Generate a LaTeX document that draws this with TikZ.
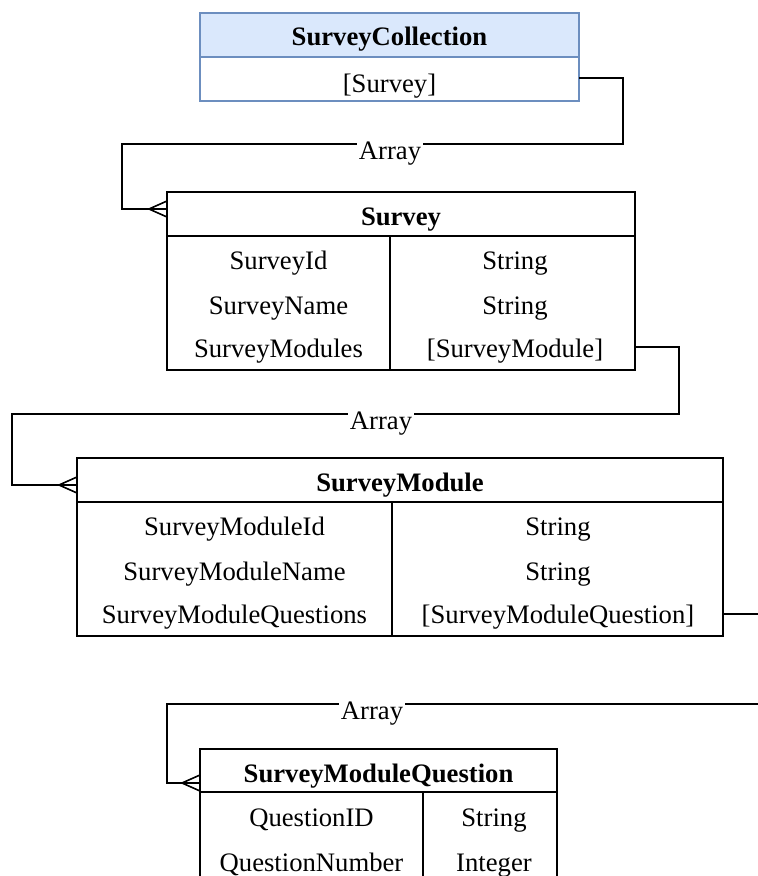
\documentclass[tikz,border=0pt]{standalone}
\usepackage{fontspec}
\setmainfont{Liberation Serif}
\usetikzlibrary{fit}
\definecolor{hdrfill}{HTML}{DAE8FC}
\definecolor{hdrline}{HTML}{6C8EBF}
\begin{document}
\begin{tikzpicture}[x=0.75pt,y=-0.75pt,
  every node/.style={font=\fontsize{20}{24}\selectfont},
  tablebox/.style={draw, line width=1.2pt, inner sep=0pt, outer sep=0pt},
  bluebox/.style={draw=hdrline, line width=1.5pt, inner sep=0pt, outer sep=0pt},
  conn/.style={draw, line width=1.2pt},
  sepline/.style={line width=1.2pt},
  celltext/.style={anchor=base, inner sep=0pt},
  headtext/.style={anchor=base, inner sep=0pt, font=\fontsize{20}{24}\selectfont\bfseries},
  edgelbl/.style={anchor=base, fill=white, inner xsep=1.5pt, inner ysep=1.5pt},
  crowfoot/.pic={\draw[line width=1.2pt] (-18,0) -- (0,-8) (-18,0) -- (0,8);}
]
\useasboundingbox (0,0) rectangle (758,876);
\clip (0,0) rectangle (758,876);

% ---- SurveyCollection ----
\fill[hdrfill] (200,13) rectangle (579,57);
\node[bluebox, fit={(200,13) (579,101)}] (coll) {};
\draw[hdrline, line width=1.5pt] (200,57) -- (579,57);
\node[headtext] (collH) at (389.5,45) {SurveyCollection};
\node[celltext] (collR) at (389.5,92) {[Survey]};

% ---- Survey ----
\node[tablebox, fit={(167,192) (635,370)}] (survey) {};
\draw[sepline] (167,236) -- (635,236);
\draw[sepline] (390,236) -- (390,370);
\node[headtext] (surveyH) at (401,225) {Survey};
\node[celltext] (sN1) at (278.5,269) {SurveyId};
\node[celltext] (sN2) at (278.5,314) {SurveyName};
\node[celltext] (sN3) at (278.5,357) {SurveyModules};
\node[celltext] (sT1) at (515,269) {String};
\node[celltext] (sT2) at (515,314) {String};
\node[celltext] (sT3) at (515,357) {[SurveyModule]};

% ---- SurveyModule ----
\node[tablebox, fit={(77,458) (723,636)}] (module) {};
\draw[sepline] (77,502) -- (723,502);
\draw[sepline] (392,502) -- (392,636);
\node[headtext] (moduleH) at (400,491) {SurveyModule};
\node[celltext] (mN1) at (234.5,535) {SurveyModuleId};
\node[celltext] (mN2) at (234.5,580) {SurveyModuleName};
\node[celltext] (mN3) at (234.5,623) {SurveyModuleQuestions};
\node[celltext] (mT1) at (558,535) {String};
\node[celltext] (mT2) at (558,580) {String};
\node[celltext] (mT3) at (558,623) {[SurveyModuleQuestion]};

% ---- SurveyModuleQuestion ----
\node[tablebox, fit={(200,749) (557,940)}] (question) {};
\draw[sepline] (200,792) -- (557,792);
\draw[sepline] (423,792) -- (423,940);
\node[headtext] (questionH) at (378.5,782) {SurveyModuleQuestion};
\node[celltext] (qN1) at (311.5,826) {QuestionID};
\node[celltext] (qN2) at (311.5,871) {QuestionNumber};
\node[celltext] (qT1) at (494,826) {String};
\node[celltext] (qT2) at (494,871) {Integer};

% ---- relations ----
\coordinate (b1) at (623,78);
\coordinate (b2) at (122,144);
\coordinate (b3) at (122,209);
\draw[conn] (coll.east |- b1) -- (b1) |- (b2) -- (b3) -- (survey.west |- b3);
\pic at (survey.west |- b3) {crowfoot};
\node[edgelbl] (arr1) at (390,159) {Array};

\coordinate (c1) at (679,347);
\coordinate (c2) at (12,414);
\coordinate (c3) at (12,485);
\draw[conn] (survey.east |- c1) -- (c1) |- (c2) -- (c3) -- (module.west |- c3);
\pic at (module.west |- c3) {crowfoot};
\node[edgelbl] (arr2) at (381,429) {Array};

\coordinate (d1) at (758,614);
\coordinate (d2) at (758,704);
\coordinate (d3) at (167,704);
\coordinate (d4) at (167,783);
\draw[conn] (module.east |- d1) -- (d1);
\draw[conn] (d2) -- (d3) -- (d4) -- (question.west |- d4);
\pic at (question.west |- d4) {crowfoot};
\node[edgelbl] (arr3) at (372,719) {Array};
\end{tikzpicture}
\end{document}
